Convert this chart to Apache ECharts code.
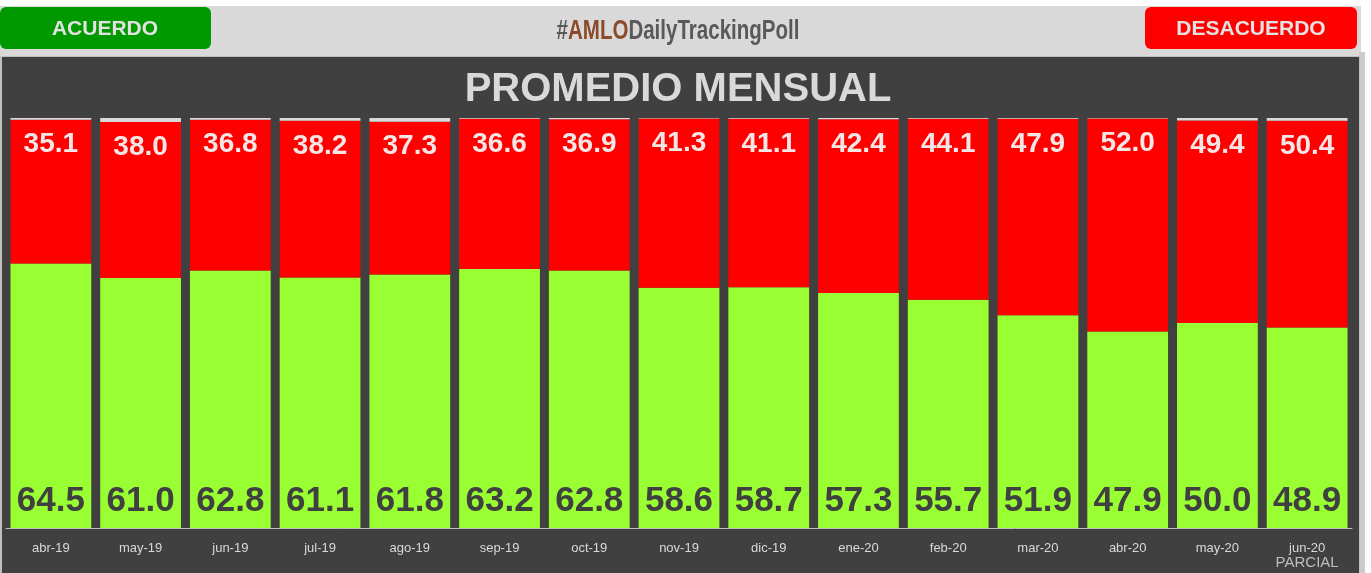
<!DOCTYPE html>
<html>
<head>
<meta charset="utf-8">
<script src="https://cdn.jsdelivr.net/npm/echarts@6/dist/echarts.min.js"></script>
<style>
  html, body { margin: 0; padding: 0; background: #fff; }
  #main { width: 1371px; height: 573px; }
</style>
</head>
<body>
<div id="main"></div>
<script>
// meses
var meses = ['abr-19', 'may-19', 'jun-19', 'jul-19', 'ago-19', 'sep-19', 'oct-19', 'nov-19',
             'dic-19', 'ene-20', 'feb-20', 'mar-20', 'abr-20', 'may-20', 'jun-20'];
// acuerdo (verde)
var acuerdo = [64.5, 61.0, 62.8, 61.1, 61.8, 63.2, 62.8, 58.6, 58.7, 57.3, 55.7, 51.9, 47.9, 50.0, 48.9];
// desacuerdo (rojo)
var desacuerdo = [35.1, 38.0, 36.8, 38.2, 37.3, 36.6, 36.9, 41.3, 41.1, 42.4, 44.1, 47.9, 52.0, 49.4, 50.4];
// no sabe / no contesta (franja gris de arriba)
var nsnc = [0.4, 1.0, 0.4, 0.7, 0.9, 0.2, 0.3, 0.1, 0.2, 0.3, 0.2, 0.2, 0.1, 0.6, 0.7];

var arial = 'Arial, "Liberation Sans", sans-serif';

var chart = echarts.init(document.getElementById('main'));
var option = {
    backgroundColor: '#ffffff',
    animation: false,
    graphic: [
        // franja gris del encabezado
        { type: 'rect', z: -10, shape: { x: 0, y: 6, width: 1361, height: 51 }, style: { fill: '#d9d9d9' } },
        // sombra derecha del panel
        { type: 'rect', z: -10, shape: { x: 1359, y: 52, width: 6, height: 521 }, style: { fill: '#cccccc' } },
        // panel oscuro
        { type: 'rect', z: -9, shape: { x: 0, y: 56, width: 1360, height: 517 }, style: { fill: '#bfbfbf' } },
        { type: 'rect', z: -8, shape: { x: 2, y: 57, width: 1357, height: 516 }, style: { fill: '#404040' } },
        // botones
        { type: 'rect', z: 5, shape: { x: 0, y: 7, width: 211, height: 42, r: 6 }, style: { fill: '#009900' } },
        {
            type: 'text', z: 6, x: 105, y: 29,
            style: { text: 'ACUERDO', fill: '#e2e2e2', font: 'bold 21px ' + arial, align: 'center', verticalAlign: 'middle' }
        },
        { type: 'rect', z: 5, shape: { x: 1145, y: 7, width: 212, height: 42, r: 6 }, style: { fill: '#ff0000' } },
        {
            type: 'text', z: 6, x: 1251, y: 29,
            style: { text: 'DESACUERDO', fill: '#e2e2e2', font: 'bold 21px ' + arial, align: 'center', verticalAlign: 'middle' }
        },
        // hashtag (letra angosta: se comprime a lo ancho)
        {
            type: 'text', z: 6, x: 678, y: 32, scaleX: 0.76,
            style: {
                text: '{a|#}{b|AMLO}{a|DailyTrackingPoll}',
                align: 'center', verticalAlign: 'middle',
                rich: {
                    a: { fill: '#595959', fontFamily: arial, fontWeight: 'bold', fontSize: 27 },
                    b: { fill: '#8c4a2a', fontFamily: arial, fontWeight: 'bold', fontSize: 27 }
                }
            }
        },
        // titulo del panel
        {
            type: 'text', z: 6, x: 678, y: 90,
            style: { text: 'PROMEDIO MENSUAL', fill: '#d9d9d9', font: 'bold 40px ' + arial, align: 'center', verticalAlign: 'middle' }
        }
    ],
    grid: { left: 6, right: 19, top: 118, bottom: 45 },
    xAxis: {
        type: 'category',
        data: meses,
        axisLine: { lineStyle: { color: '#bfbfbf', width: 1 } },
        axisTick: { show: false },
        axisLabel: {
            color: '#d9d9d9',
            fontSize: 13,
            margin: 14,
            interval: 0,
            formatter: function (v) {
                if (v === 'jun-20') return v + '\n{p|PARCIAL}';
                return v;
            },
            rich: {
                p: { color: '#bfbfbf', fontFamily: arial, fontSize: 15, lineHeight: 16 }
            }
        }
    },
    yAxis: { type: 'value', min: 0, max: 100, show: false, splitLine: { show: false } },
    series: [
        {
            name: 'Acuerdo', type: 'bar', stack: 'total', data: acuerdo,
            barCategoryGap: '10%',
            itemStyle: { color: '#99ff33' },
            label: {
                show: true, position: 'insideBottom', distance: 9,
                color: '#404040', fontSize: 35, fontWeight: 'bold', fontFamily: arial,
                formatter: function (p) { return p.value.toFixed(1); }
            }
        },
        {
            name: 'Desacuerdo', type: 'bar', stack: 'total', data: desacuerdo,
            itemStyle: { color: '#ff0000' },
            label: {
                show: true, position: 'insideTop', distance: 11,
                color: '#f5e6e6', fontSize: 28, fontWeight: 'bold', fontFamily: arial,
                formatter: function (p) { return p.value.toFixed(1); }
            }
        },
        {
            name: 'NS/NC', type: 'bar', stack: 'total', data: nsnc,
            itemStyle: { color: '#d9d9d9' }
        }
    ]
};
chart.setOption(option);
</script>
</body>
</html>
